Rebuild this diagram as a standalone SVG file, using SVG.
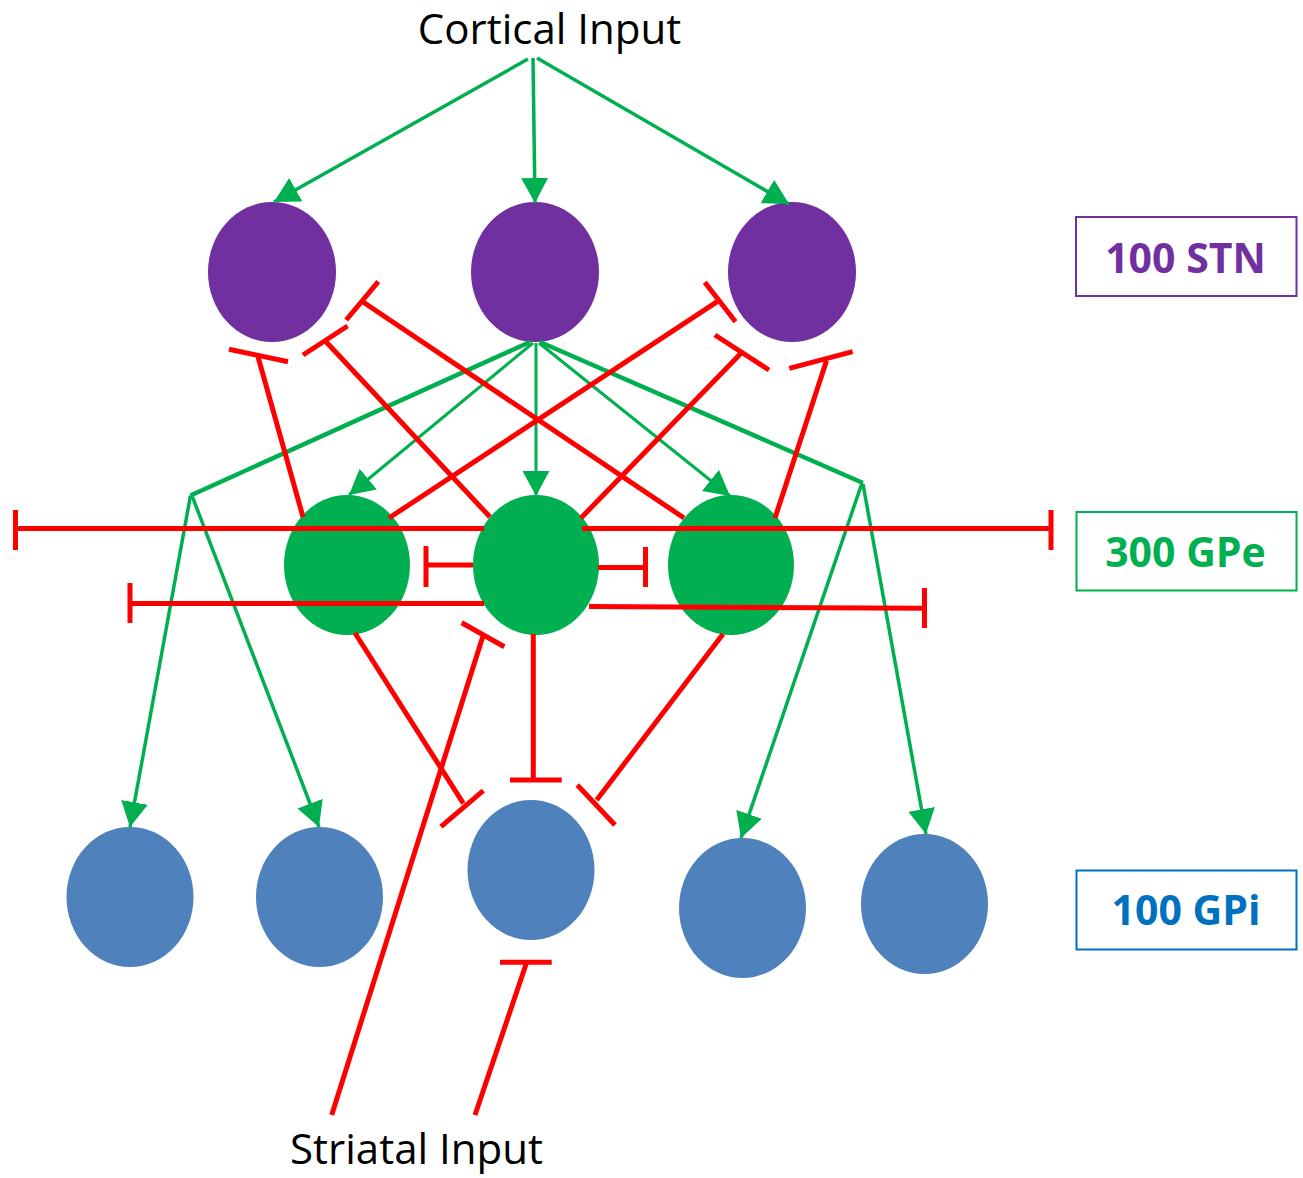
<svg xmlns="http://www.w3.org/2000/svg" width="1303" height="1178" viewBox="0 0 1303 1178">
<style>
.stn{fill:#7030A0}
.gpe{fill:#00B050}
.gpi{fill:#4F81BD}
.exc{stroke:#00B050;stroke-width:3;fill:none}
.excm{stroke:#00B050;stroke-width:3.5;fill:none}
.exct{stroke:#00B050;stroke-width:4.5;fill:none}
.inh{stroke:#FF0000;stroke-width:5;fill:none;stroke-linecap:butt}
.lbl{font-family:"Open Sans","Liberation Sans",sans-serif;font-size:42px;fill:#000}
.tag{font-family:"Open Sans","Liberation Sans",sans-serif;font-size:41px;font-weight:bold;text-anchor:middle}
.box{fill:#fff;stroke-width:2}
</style>
<defs>
<marker id="ah" markerUnits="userSpaceOnUse" markerWidth="26" markerHeight="27" refX="25" refY="13.5" orient="auto">
<path d="M0,0 L25,13.5 L0,27 Z" fill="#00B050"/>
</marker>
</defs>
<rect width="1303" height="1178" fill="#fff"/>

<g id="stn1"><ellipse class="stn" cx="272" cy="272" rx="64" ry="70"/></g>
<g id="stn2"><ellipse class="stn" cx="535" cy="272" rx="64" ry="70"/></g>
<g id="stn3"><ellipse class="stn" cx="792" cy="272" rx="64" ry="70"/></g>
<g id="gpe1"><ellipse class="gpe" cx="347" cy="565" rx="63" ry="70"/></g>
<g id="gpe2"><ellipse class="gpe" cx="536" cy="565" rx="63" ry="70"/></g>
<g id="gpe3"><ellipse class="gpe" cx="731" cy="565" rx="63" ry="70"/></g>
<g id="gpi1"><ellipse class="gpi" cx="130" cy="897" rx="63.5" ry="70"/></g>
<g id="gpi2"><ellipse class="gpi" cx="319.5" cy="897" rx="63.5" ry="70"/></g>
<g id="gpi3"><ellipse class="gpi" cx="531" cy="870" rx="63.5" ry="70"/></g>
<g id="gpi4"><ellipse class="gpi" cx="742.5" cy="908" rx="63.5" ry="70"/></g>
<g id="gpi5"><ellipse class="gpi" cx="924.5" cy="904" rx="63.5" ry="70"/></g>

<g id="label-cortical"><text class="lbl" x="549.5" y="44" text-anchor="middle">Cortical Input</text></g>
<g id="label-striatal"><text class="lbl" x="416.5" y="1164" text-anchor="middle">Striatal Input</text></g>

<g id="legend-stn"><rect class="box" x="1076" y="217" width="220.5" height="79" stroke="#7030A0"/><text class="tag" x="1185.5" y="273" fill="#7030A0">100 STN</text></g>
<g id="legend-gpe"><rect class="box" x="1076.5" y="512" width="220" height="78.5" stroke="#00B050"/><text class="tag" x="1185.5" y="567" fill="#00B050">300 GPe</text></g>
<g id="legend-gpi"><rect class="box" x="1076.5" y="870.5" width="220" height="79" stroke="#0070C0"/><text class="tag" x="1186" y="925" fill="#0070C0">100 GPi</text></g>

<g id="connectors">
<!-- cortical excitatory -->
<line class="excm" x1="528" y1="59" x2="274" y2="202" marker-end="url(#ah)"/>
<line class="excm" x1="533" y1="58" x2="535" y2="203" marker-end="url(#ah)"/>
<line class="excm" x1="537" y1="58" x2="789" y2="204" marker-end="url(#ah)"/>
<!-- STN to GPe -->
<line class="exc" x1="533" y1="343" x2="349" y2="495" marker-end="url(#ah)"/>
<line class="exc" x1="536" y1="343" x2="536" y2="496" marker-end="url(#ah)"/>
<line class="exc" x1="539" y1="343" x2="730" y2="496" marker-end="url(#ah)"/>
<!-- STN to GPi via junctions -->
<line class="exct" x1="530" y1="342" x2="190.5" y2="495.5"/>
<line class="exct" x1="540" y1="342" x2="863" y2="483"/>
<line class="excm" x1="190.5" y1="495.5" x2="130" y2="827" marker-end="url(#ah)"/>
<line class="excm" x1="192.5" y1="497" x2="319" y2="827" marker-end="url(#ah)"/>
<line class="excm" x1="862" y1="483" x2="741" y2="838" marker-end="url(#ah)"/>
<line class="excm" x1="863" y1="484" x2="926" y2="834" marker-end="url(#ah)"/>

<!-- GPe to STN inhibitory -->
<line class="inh" x1="303" y1="517" x2="258" y2="356.7"/>
<line class="inh" x1="229" y1="349.3" x2="288" y2="361.7"/>
<line class="inh" x1="490" y1="517" x2="326" y2="341.7"/>
<line class="inh" x1="303" y1="355" x2="347.6" y2="326"/>
<line class="inh" x1="684" y1="518" x2="362.7" y2="301.7"/>
<line class="inh" x1="346.2" y1="320" x2="378.3" y2="281.7"/>
<line class="inh" x1="389" y1="518" x2="717.2" y2="301.7"/>
<line class="inh" x1="704.8" y1="282.3" x2="735.5" y2="321.7"/>
<line class="inh" x1="581" y1="518" x2="741" y2="353.3"/>
<line class="inh" x1="714.9" y1="335" x2="769" y2="370"/>
<line class="inh" x1="775" y1="518" x2="826.5" y2="360.7"/>
<line class="inh" x1="789.3" y1="368.3" x2="852.6" y2="351.7"/>

<!-- GPe lateral inhibitory -->
<line class="inh" x1="484" y1="528.5" x2="15.5" y2="528.5"/>
<line class="inh" x1="15.5" y1="510" x2="15.5" y2="550"/>
<line class="inh" x1="582" y1="528.5" x2="1051" y2="528.5"/>
<line class="inh" x1="1051" y1="510" x2="1051" y2="550"/>
<line class="inh" x1="473" y1="565" x2="426" y2="565"/>
<line class="inh" x1="426" y1="546" x2="426" y2="587"/>
<line class="inh" x1="598" y1="567.5" x2="645.5" y2="567.5"/>
<line class="inh" x1="645.5" y1="547" x2="645.5" y2="587"/>
<line class="inh" x1="484" y1="603.5" x2="130" y2="603.5"/>
<line class="inh" x1="130" y1="583" x2="130" y2="623"/>
<line class="inh" x1="589" y1="606.5" x2="924.5" y2="608.3"/>
<line class="inh" x1="924.5" y1="588" x2="924.5" y2="628"/>

<!-- GPe to GPi inhibitory -->
<line class="inh" x1="355" y1="633" x2="463.3" y2="803.3"/>
<line class="inh" x1="441" y1="826.7" x2="483.3" y2="790.7"/>
<line class="inh" x1="533.3" y1="634" x2="533.3" y2="780"/>
<line class="inh" x1="510" y1="780" x2="561.7" y2="780"/>
<line class="inh" x1="723" y1="634" x2="596.7" y2="800"/>
<line class="inh" x1="577.3" y1="785" x2="615" y2="825"/>

<!-- Striatal inhibitory -->
<line class="inh" x1="331.7" y1="1115" x2="483.3" y2="635"/>
<line class="inh" x1="461.7" y1="622.7" x2="504.3" y2="646.7"/>
<line class="inh" x1="475" y1="1115" x2="526.7" y2="962.3"/>
<line class="inh" x1="500" y1="962.3" x2="551.7" y2="962.3"/>
</g>
</svg>
